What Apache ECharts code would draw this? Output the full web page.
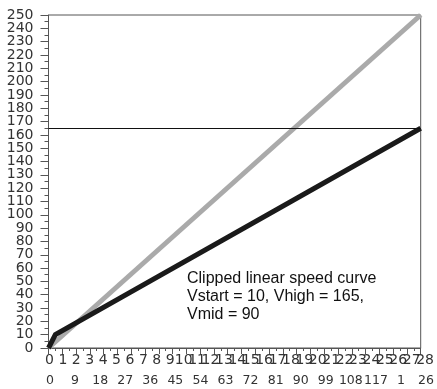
<!DOCTYPE html>
<html>
<head>
<meta charset="utf-8">
<script src="https://cdn.jsdelivr.net/npm/echarts@6/dist/echarts.min.js"></script>
<style>
html,body{margin:0;padding:0;background:#fff;}
#c{width:437px;height:389px;}
</style>
</head>
<body>
<div id="c"></div>
<script>
// x positions are step indices (0..27)
var linearX = [0, 27];
var linearY = [0, 250];
var clippedX = [0, 0.5, 27];
var clippedY = [0, 10, 165];
var vHigh = 165;
var topTickLabels = ['0','1','2','3','4','5','6','7','8','9','10','11','12','13','14','15','16','17','18','19','20','21','22','23','24','25','26','27','28'];
var bottomTickLabels = ['0','9','18','27','36','45','54','63','72','81','90','99','108','117','1','26'];
var yMin = 0, yMax = 250, yStep = 10;
var noteLines = ['Clipped linear speed curve', 'Vstart = 10, Vhigh = 165,', 'Vmid = 90'];

function pairs(xs, ys){ return xs.map(function(x,i){ return [x, ys[i]]; }); }

var chart = echarts.init(document.getElementById('c'), null, {renderer:'canvas'});
var lblFont = 'DejaVu Sans';
var gTop = 15, gBottom = 41, gH = 389 - gTop - gBottom;
var pad = gH / (yMax - yMin) * yStep;
var option = {
  animation: false,
  grid: [
    {left: 48.5, right: 16.3, top: gTop, bottom: gBottom, show: true, borderColor: '#555', borderWidth: 1, backgroundColor: 'transparent'},
    {left: 49.5, width: 392.4, top: gTop, bottom: gBottom, show: false},
    {left: 50, right: 5, top: gTop, bottom: gBottom, show: false},
    {left: 48.5, right: 16.3, top: gTop - pad, bottom: gBottom - pad, show: false}
  ],
  xAxis: [
    {type: 'value', gridIndex: 0, min: 0, max: 27, interval: 1,
     axisLine: {show: true, lineStyle: {color: '#555', width: 1}},
     axisTick: {show: true, length: 6, lineStyle: {color: '#555'}},
     minorTick: {show: true, splitNumber: 2, length: 3, lineStyle: {color: '#555'}},
     axisLabel: {show: false}, splitLine: {show: false}},
    {type: 'value', gridIndex: 1, min: 0, max: 28.5, interval: 1,
     axisLine: {show: false}, axisTick: {show: false}, splitLine: {show: false},
     axisLabel: {show: true, margin: 5, fontFamily: lblFont, fontSize: 14, color: '#333', showMinLabel: true, showMaxLabel: false, hideOverlap: false,
       formatter: function(v){ return topTickLabels[Math.round(v)] || ''; }}},
    {type: 'value', gridIndex: 2, min: 0, max: 15, interval: 1,
     axisLine: {show: false}, axisTick: {show: false}, splitLine: {show: false},
     axisLabel: {show: true, margin: 26, fontFamily: lblFont, fontSize: 12.5, color: '#333', showMinLabel: true, showMaxLabel: true, hideOverlap: false,
       formatter: function(v){ return bottomTickLabels[Math.round(v)] || ''; }}},
    {type: 'value', gridIndex: 3, min: 0, max: 1, show: false}
  ],
  yAxis: [
    {type: 'value', gridIndex: 0, min: yMin, max: yMax, interval: yStep,
     axisLine: {show: true, lineStyle: {color: '#555', width: 1}},
     axisTick: {show: true, length: 8, lineStyle: {color: '#555'}},
     minorTick: {show: true, splitNumber: 2, length: 4, lineStyle: {color: '#555'}},
     axisLabel: {show: false},
     splitLine: {show: false}},
    {type: 'value', gridIndex: 1, min: 0, max: 250, show: false},
    {type: 'value', gridIndex: 2, min: 0, max: 250, show: false},
    {type: 'value', gridIndex: 3, min: yMin - yStep, max: yMax + yStep, interval: yStep,
     axisLine: {show: false}, axisTick: {show: false}, splitLine: {show: false},
     axisLabel: {show: true, margin: 15, fontFamily: lblFont, fontSize: 14, color: '#333', hideOverlap: false, showMinLabel: false, showMaxLabel: false,
       formatter: function(v){ return (v >= yMin && v <= yMax) ? String(v) : ''; }}}
  ],
  series: [
    {type: 'line', xAxisIndex: 0, yAxisIndex: 0, data: pairs(linearX, linearY), symbol: 'none',
     lineStyle: {color: '#aaaaaa', width: 5}, z: 2},
    {type: 'line', xAxisIndex: 0, yAxisIndex: 0, data: pairs(clippedX, clippedY), symbol: 'none',
     lineStyle: {color: '#1a1a1a', width: 5, join: 'miter'}, z: 3,
     markLine: {silent: true, symbol: 'none', label: {show: false},
       lineStyle: {color: '#111', width: 1, type: 'solid'},
       data: [{yAxis: vHigh}]}}
  ],
  graphic: [
    {type: 'text', left: 187, top: 270,
     style: {text: noteLines.join('\n'), fontFamily: 'Liberation Sans', fontSize: 16, lineHeight: 18, fill: '#111'}}
  ]
};
chart.setOption(option);
</script>
</body>
</html>
